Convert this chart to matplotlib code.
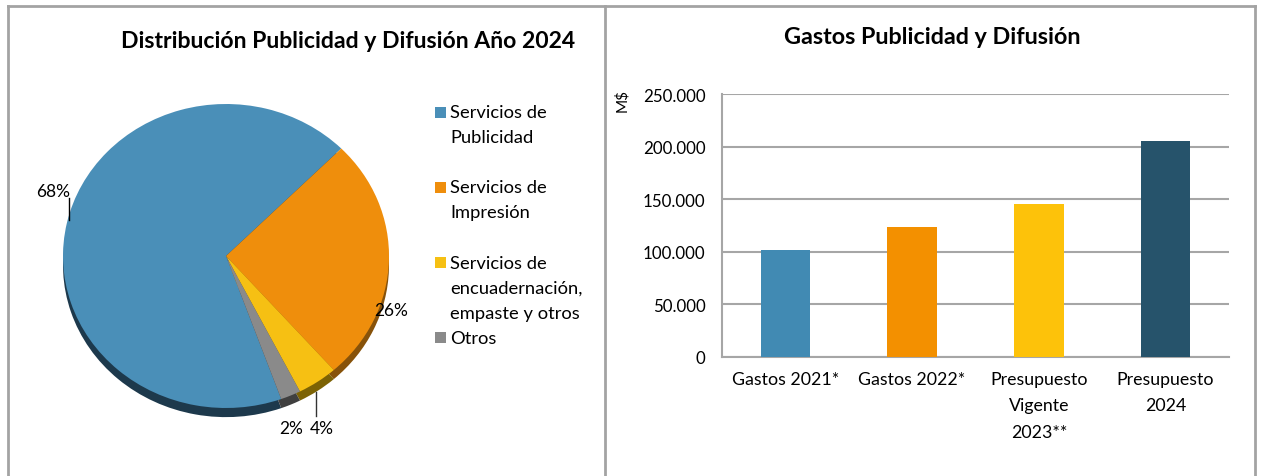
import matplotlib.pyplot as plt
from matplotlib.lines import Line2D
from matplotlib.patches import Rectangle
from matplotlib.ticker import FuncFormatter

plt.rcParams["font.family"] = ["Lato", "DejaVu Sans"]

# -----------------------------
# Data
# -----------------------------
pie_labels = [
    ["Servicios de", "Publicidad"],
    ["Servicios de", "Impresión"],
    ["Servicios de", "encuadernación,", "empaste y otros"],
    ["Otros"],
]
pie_values = [68, 26, 4, 2]
pie_colors = ["#4a8fb8", "#ef8e0c", "#f6c013", "#8a8a8a"]
pie_side_colors = ["#1d394c", "#87520a", "#7c6204", "#3f3f3f"]

bar_categories = ["Gastos 2021*", "Gastos 2022*", "Presupuesto\nVigente\n2023**", "Presupuesto\n2024"]
bar_values = [102000, 124000, 145500, 205500]
bar_colors = ["#418ab3", "#f39000", "#fdc20a", "#26536b"]
y_ticks = [0, 50000, 100000, 150000, 200000, 250000]

W, H = 1263, 477
BORDER = "#a3a3a3"
GRID = "#a6a6a6"


def px_box(x0, y0, x1, y1):
    """Pixel box (top-left origin) -> figure fraction rect."""
    return [x0 / W, 1 - y1 / H, (x1 - x0) / W, (y1 - y0) / H]


def fx(x):
    return x / W


def fy(y):
    return 1 - y / H


fig = plt.figure(figsize=(W / 100, H / 100), dpi=100)

# ---- panel frames
for xs, ys in [((8, 1255), (7, 7)), ((8, 8), (7, 477)), ((605, 605), (7, 477)), ((1255, 1255), (7, 477))]:
    fig.add_artist(Line2D([fx(x) for x in xs], [fy(y) for y in ys],
                          transform=fig.transFigure, color=BORDER, lw=2))

# -----------------------------
# Pie (left panel)
# -----------------------------
fig.text(fx(348), fy(42), "Distribución Publicidad y Difusión Año 2024",
         ha="center", va="center", fontsize=16.6, fontweight="bold")

ax_pie = fig.add_axes(px_box(63, 105, 389, 409))
ax_pie.axis("off")

start = 45 + 360 * pie_values[0] / sum(pie_values)
side, _ = ax_pie.pie(pie_values, colors=pie_side_colors, startangle=start, counterclock=False,
                     center=(0, -0.06), radius=1, wedgeprops=dict(linewidth=0))
top, _ = ax_pie.pie(pie_values, colors=pie_colors, startangle=start, counterclock=False,
                    center=(0, 0), radius=1, wedgeprops=dict(linewidth=0))
for w in side + top:
    w.set_clip_on(False)
ax_pie.set_aspect("auto")
ax_pie.set_xlim(-1, 1)
ax_pie.set_ylim(-1, 1)

label_pos = [(-0.955, 0.43, "right"), (0.91, -0.355, "left"), (0.585, -1.13, "center"), (0.40, -1.13, "center")]
for v, (x, y, ha) in zip(pie_values, label_pos):
    ax_pie.text(x, y, f"{v}%", ha=ha, va="center", fontsize=12.5, clip_on=False)
ax_pie.plot([-0.963, -0.963], [0.38, 0.235], color="black", lw=1, clip_on=False)
ax_pie.plot([0.555, 0.555], [-0.895, -1.05], color="#333333", lw=1, clip_on=False)

# ---- legend (Excel style, evenly spaced entries)
for i, (lines, c) in enumerate(zip(pie_labels, pie_colors)):
    y0 = 113 + 75.3 * i
    fig.add_artist(Rectangle((fx(435), fy(y0 + 5.5)), 11 / W, 11 / H,
                             transform=fig.transFigure, color=c, lw=0))
    for j, s in enumerate(lines):
        fig.text(fx(450), fy(y0 + 25 * j), s, ha="left", va="center", fontsize=13.2)

# -----------------------------
# Bars (right panel)
# -----------------------------
fig.text(fx(932), fy(38), "Gastos Publicidad y Difusión",
         ha="center", va="center", fontsize=16.8, fontweight="bold")

ax_bar = fig.add_axes(px_box(722, 95, 1229, 358))
x = range(len(bar_values))
ax_bar.bar(x, bar_values, width=0.39, color=bar_colors, zorder=3)
ax_bar.set_xlim(-0.5, len(bar_values) - 0.5)
ax_bar.set_ylim(0, 250000)
ax_bar.set_yticks(y_ticks)
ax_bar.yaxis.set_major_formatter(FuncFormatter(lambda v, _: f"{int(v):,}".replace(",", ".")))
ax_bar.set_xticks(list(x))
ax_bar.set_xticklabels(bar_categories, linespacing=1.8, fontsize=12.8)
ax_bar.tick_params(axis="both", length=0)
ax_bar.tick_params(axis="y", pad=12, labelsize=12.2)
ax_bar.tick_params(axis="x", pad=10)
ax_bar.grid(axis="y", color=GRID, lw=1.5, zorder=0)
ax_bar.set_axisbelow(True)
for s in ["top", "right"]:
    ax_bar.spines[s].set_visible(False)
for s in ["left", "bottom"]:
    ax_bar.spines[s].set_color(GRID)
    ax_bar.spines[s].set_linewidth(1.5)

fig.text(fx(622), fy(100), "M$", rotation=90, ha="center", va="center", fontsize=11)

fig.savefig("out.png", dpi=100)
